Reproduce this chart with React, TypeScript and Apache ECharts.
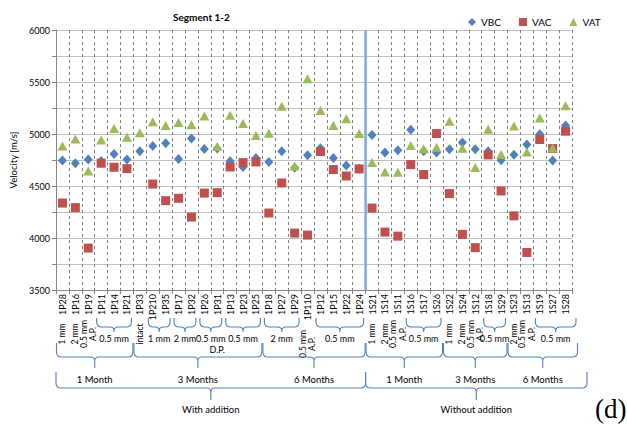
import React, { useEffect, useRef } from 'react';
import * as echarts from 'echarts';

const categories = [
  '1P28', '1P16', '1P19', '1P11', '1P14', '1P21', '1P33', '1P210', '1P35', '1P17',
  '1P32', '1P26', '1P31', '1P13', '1P23', '1P25', '1P18', '1P27', '1P29', '1P110',
  '1P12', '1P15', '1P22', '1P24', '1S21', '1S14', '1S11', '1S16', '1S17', '1S26',
  '1S22', '1S24', '1S12', '1S18', '1S29', '1S23', '1S13', '1S19', '1S27', '1S28',
];

const vbc = [
  4745, 4719, 4754, 4740, 4808, 4754, 4834, 4885, 4911, 4760,
  4957, 4855, 4860, 4738, 4683, 4770, 4731, 4834, 4675, 4796,
  4863, 4770, 4696, 4665, 4991, 4822, 4844, 5040, 4834, 4822,
  4853, 4918, 4853, 4834, 4748, 4800, 4898, 4998, 4745, 5082,
];

const vac: (number | null)[] = [
  4336, 4292, 3903, 4719, 4680, 4667, null, 4519, 4359, 4382,
  4201, 4432, 4436, 4683, 4725, 4731, 4240, 4529, 4047, 4028,
  4831, 4658, 4596, 4664, 4288, 4057, 4018, 4706, 4610, 5005,
  4427, 4035, 3907, 4799, 4452, 4213, 3861, 4947, 4860, 5027,
];

const vat = [
  4885, 4953, 4645, 4943, 5053, 4969, 5011, 5117, 5082, 5111,
  5088, 5172, 4880, 5181, 5101, 4985, 5008, 5268, 4693, 5531,
  5226, 5082, 5146, 5005, 4725, 4635, 4632, 4889, 4857, 4873,
  5123, 4863, 4677, 5046, 4802, 5078, 4827, 5155, 4866, 5271,
];

const seriesNames = ['VBC', 'VAC', 'VAT'];

// [first category index, last category index, label]
const sizeGroups: [number, number, string][] = [
  [3, 5, '0.5 mm'], [7, 8, '1 mm'], [9, 10, '2 mm'], [11, 12, '0.5 mm'],
  [13, 15, '0.5 mm'], [16, 18, '2 mm'], [20, 23, '0.5 mm'], [27, 29, '0.5 mm'],
  [33, 34, '0.5 mm'], [37, 39, '0.5 mm'],
];
const singleLabels: [number, string][] = [
  [0, '1 mm'], [1, '2 mm'], [2, '0.5 mm\nA.P.'], [6, 'intact'], [19, '0.5 mm\nA.P.'],
  [24, '1 mm'], [25, '2 mm'], [26, '0.5 mm\nA.P.'], [30, '1 mm'], [31, '2 mm'],
  [32, '0.5 mm\nA.P.'], [35, '2 mm'], [36, '0.5 mm\nA.P.'],
];
const dpGroup: [number, number, string] = [9, 15, 'D.P.'];
const monthGroups: [number, number, string][] = [
  [0, 5, '1 Month'], [6, 15, '3 Months'], [16, 23, '6 Months'],
  [24, 29, '1 Month'], [30, 34, '3 Months'], [35, 39, '6 Months'],
];
const additionGroups: [number, number, string][] = [
  [0, 23, 'With addition'], [24, 39, 'Without addition'],
];
const dividerAfter = 23;

const FONT = 'Lato';
const BRACE_COLOR = '#4F81BD';

const Brace = (echarts.graphic as any).extendShape({
  type: 'brace',
  shape: { x1: 0, x2: 0, y0: 0, yh: 0, yt: 0 },
  buildPath(ctx: any, s: any) {
    const mid = (s.x1 + s.x2) / 2;
    const r = Math.min(5, (s.x2 - s.x1) / 4, (s.yh - s.y0));
    const r2 = Math.min(4, s.yt - s.yh);
    ctx.moveTo(s.x1, s.y0);
    ctx.lineTo(s.x1, s.yh - r);
    ctx.quadraticCurveTo(s.x1, s.yh, s.x1 + r, s.yh);
    ctx.lineTo(mid - r2, s.yh);
    ctx.quadraticCurveTo(mid, s.yh, mid, s.yh + r2);
    ctx.lineTo(mid, s.yt);
    ctx.moveTo(s.x2, s.y0);
    ctx.lineTo(s.x2, s.yh - r);
    ctx.quadraticCurveTo(s.x2, s.yh, s.x2 - r, s.yh);
    ctx.lineTo(mid + r2, s.yh);
    ctx.quadraticCurveTo(mid, s.yh, mid, s.yh + r2);
  },
});
(echarts.graphic as any).registerShape('brace', Brace);

export default function App() {
  const ref = useRef<HTMLDivElement>(null);

  useEffect(() => {
    if (!ref.current) return;
    const chart = echarts.init(ref.current, undefined, { renderer: 'svg' });
    const option: any = {
      animation: false,
      textStyle: { fontFamily: FONT },
      title: {
        text: 'Segment 1-2',
        left: 168,
        top: 7,
        textStyle: { fontSize: 10, fontWeight: 'bold', color: '#000', fontFamily: FONT },
      },
      legend: {
        data: seriesNames,
        left: 463,
        top: 12,
        itemWidth: 8,
        itemHeight: 8,
        itemGap: 18,
        textStyle: { fontSize: 10, color: '#000', fontFamily: FONT },
      },
      grid: { left: 56, right: 55, top: 30, bottom: 135 },
      xAxis: {
        type: 'category',
        data: categories,
        boundaryGap: true,
        axisLine: { lineStyle: { color: '#868686' } },
        axisTick: { show: true, interval: 0, length: 4, lineStyle: { color: '#868686' } },
        axisLabel: { interval: 0, rotate: 90, fontSize: 9, color: '#000', margin: 4, fontFamily: FONT },
        splitLine: { show: true, interval: 0, lineStyle: { type: [3, 3], color: '#7f7f7f', width: 1 } },
      },
      yAxis: {
        type: 'value',
        min: 3500,
        max: 6000,
        interval: 250,
        name: 'Velocity [m/s]',
        nameLocation: 'middle',
        nameGap: 37,
        nameTextStyle: { fontSize: 9.5, color: '#000', fontFamily: FONT },
        axisLine: { show: true, lineStyle: { color: '#868686' } },
        axisTick: { show: true, length: 4, lineStyle: { color: '#868686' } },
        axisLabel: {
          fontSize: 9,
          color: '#000',
          margin: 6,
          fontFamily: FONT,
          formatter: (v: number) => (v % 500 === 0 ? String(v) : ''),
        },
        splitLine: { lineStyle: { color: '#c0c0c0', width: 1.2 } },
      },
      series: [
        { name: 'VBC', type: 'scatter', data: vbc, symbol: 'diamond', symbolSize: [9, 10], itemStyle: { color: '#4F81BD', opacity: 1 } },
        { name: 'VAC', type: 'scatter', data: vac.map((v) => (v === null ? '-' : v)), symbol: 'rect', symbolSize: 9, itemStyle: { color: '#C0504D', opacity: 1 } },
        { name: 'VAT', type: 'scatter', data: vat, symbol: 'triangle', symbolSize: [10, 9], itemStyle: { color: '#9BBB59', opacity: 1 } },
      ],
    };
    chart.setOption(option);

    const px = (i: number) => chart.convertToPixel({ xAxisIndex: 0 }, categories[i]) as number;
    const bw = px(1) - px(0);
    const top = chart.convertToPixel({ yAxisIndex: 0 }, 6000) as number;
    const bottom = chart.convertToPixel({ yAxisIndex: 0 }, 3500) as number;
    const lastIdx = categories.length - 1;

    const g: any[] = [];
    const txt = (x: number, y: number, text: string, size: number, rot = 0, extra: any = {}) => ({
      type: 'text',
      x,
      y,
      rotation: rot,
      style: {
        text,
        fontSize: size,
        fontFamily: FONT,
        fill: '#000',
        align: 'center',
        verticalAlign: 'middle',
        lineHeight: size + 1,
        ...extra,
      },
    });
    const brace = (s: number, e: number, y0: number, yh: number, yt: number, inset: number, ext: number) => {
      const x1 = px(s) - bw / 2 + inset;
      const x2 = px(e) + bw / 2 - inset + (e === lastIdx ? ext : 0);
      g.push({
        type: 'brace',
        shape: { x1, x2, y0, yh, yt },
        style: { stroke: BRACE_COLOR, fill: 'none', lineWidth: 1.1 },
      });
      return (x1 + x2) / 2;
    };

    // divider between the two groups
    const dx = px(dividerAfter) + bw / 2;
    g.push({
      type: 'line',
      shape: { x1: dx, y1: top, x2: dx, y2: bottom },
      style: { stroke: '#7FA9DD', lineWidth: 2.5 },
      z: 10,
    });

    sizeGroups.forEach(([s, e, label]) => {
      const m = brace(s, e, 318, 327, 332, 2, 6);
      g.push(txt(m, 338, label, 9));
    });
    singleLabels.forEach(([i, label]) => {
      const y = i === 19 ? 344 : 334;
      g.push(txt(px(i), y, label, 8.5, Math.PI / 2));
    });
    {
      const m = (px(dpGroup[0]) + px(dpGroup[1])) / 2;
      g.push(txt(m, 349, dpGroup[2], 9));
    }
    monthGroups.forEach(([s, e, label]) => {
      const m = brace(s, e, 343, 357, 368, 0.5, 6);
      g.push(txt(m, 379, label, 9.5));
    });
    additionGroups.forEach(([s, e, label]) => {
      const m = brace(s, e, 372, 388, 400, 0, 15);
      g.push(txt(m, 409, label, 9.5));
    });

    g.push({
      type: 'text',
      x: 595,
      y: 422,
      style: {
        text: '(d)',
        fontSize: 27,
        fontFamily: 'Liberation Serif',
        fill: '#000',
        align: 'left',
        verticalAlign: 'bottom',
      },
    });

    chart.setOption({ graphic: g });

    return () => chart.dispose();
  }, []);

  return (
    <div
      ref={ref}
      style={{ position: 'absolute', left: 0, top: 0, width: 627, height: 425, background: '#fff' }}
    />
  );
}
